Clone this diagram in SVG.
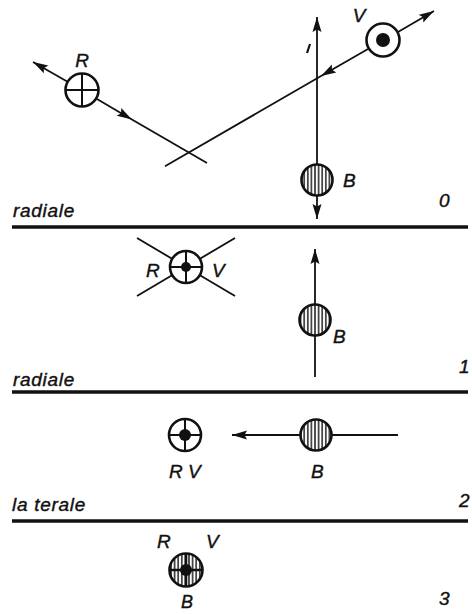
<svg xmlns="http://www.w3.org/2000/svg" width="472" height="614" viewBox="0 0 472 614">
<style>
.ln{stroke:#111;stroke-width:1.8;fill:none}
.rule{stroke:#111;stroke-width:3.5}
.ring{stroke:#111;stroke-width:2.6;fill:#fff}
.hring{stroke:#111;stroke-width:2.6;fill:url(#hatch)}
.cross{stroke:#111;stroke-width:2}
.dot{fill:#111}
.t{font-family:"Liberation Sans","Arial",sans-serif;font-style:italic;font-size:19px;fill:#111;stroke:#111;stroke-width:0.4}
.w{letter-spacing:0.7px}
</style>
<defs>
<pattern id="hatch" patternUnits="userSpaceOnUse" width="3.6" height="10">
<rect width="3.6" height="10" fill="#fff"/>
<line x1="1.8" y1="0" x2="1.8" y2="10" stroke="#111" stroke-width="1.4"/>
</pattern>
<marker id="arr" markerUnits="userSpaceOnUse" markerWidth="16" markerHeight="9" refX="15" refY="4.5" orient="auto" overflow="visible">
<path d="M0,0 L15,4.5 L0,9 L2.5,4.5 z" fill="#111"/>
</marker>
<marker id="arrm" markerUnits="userSpaceOnUse" markerWidth="16" markerHeight="9" refX="7" refY="4.5" orient="auto" overflow="visible">
<path d="M0,0 L15,4.5 L0,9 L2.5,4.5 z" fill="#111"/>
</marker>
</defs>

<g id="connectors">
<!-- panel 0 -->
<line class="ln" x1="68" y1="82" x2="33" y2="62" marker-end="url(#arr)"/>
<path class="ln" d="M97,99 L125,115.5 L207,163" marker-mid="url(#arrm)"/>
<path class="ln" d="M368,49 L328,72 L165,166.3" marker-mid="url(#arrm)"/>
<line class="ln" x1="398" y1="32" x2="434" y2="11" marker-end="url(#arr)"/>
<line class="ln" x1="317" y1="164" x2="317" y2="17" marker-end="url(#arr)"/>
<line class="ln" x1="317" y1="196" x2="317" y2="219" marker-end="url(#arr)"/>
<line class="ln" x1="307" y1="53" x2="310" y2="44" style="stroke-width:2.2"/>
<!-- panel 1 -->
<line class="ln" x1="137" y1="238" x2="235" y2="296"/>
<line class="ln" x1="137" y1="296" x2="235" y2="238"/>
<line class="ln" x1="315" y1="377" x2="315" y2="249" marker-end="url(#arr)"/>
<!-- panel 2 -->
<line class="ln" x1="398" y1="435" x2="332" y2="435"/>
<line class="ln" x1="300" y1="435" x2="232" y2="435" marker-end="url(#arr)"/>
</g>

<g id="rules">
<line class="rule" x1="12" y1="227" x2="468" y2="227"/>
<line class="rule" x1="12" y1="392" x2="468" y2="392"/>
<line class="rule" x1="12" y1="521" x2="468" y2="521"/>
</g>

<g id="p0-R">
<circle class="ring" cx="82" cy="90" r="16.5"/>
<line class="cross" x1="65.5" y1="90" x2="98.5" y2="90"/>
<line class="cross" x1="82" y1="73.5" x2="82" y2="106.5"/>
<text class="t" x="82" y="67" text-anchor="middle">R</text>
</g>
<g id="p0-V">
<circle class="ring" cx="383" cy="40" r="16.5"/>
<circle class="dot" cx="383" cy="40" r="7"/>
<text class="t" x="359" y="22" text-anchor="middle">V</text>
</g>
<g id="p0-B">
<circle class="hring" cx="317" cy="180" r="15.5"/>
<text class="t" x="343" y="187">B</text>
</g>
<g id="p0-labels">
<text class="t w" x="13" y="217">radiale</text>
<text class="t" x="439" y="207">0</text>
</g>

<g id="p1-RV">
<circle class="ring" cx="186" cy="267" r="16"/>
<line class="cross" x1="170" y1="267" x2="202" y2="267"/>
<line class="cross" x1="186" y1="251" x2="186" y2="283"/>
<circle class="dot" cx="186" cy="267" r="5"/>
<text class="t" x="146" y="277">R</text>
<text class="t" x="212" y="277">V</text>
</g>
<g id="p1-B">
<circle class="hring" cx="315" cy="320" r="15.5"/>
<text class="t" x="333" y="343">B</text>
</g>
<g id="p1-labels">
<text class="t w" x="13" y="386">radiale</text>
<text class="t" x="459" y="373">1</text>
</g>

<g id="p2-RV">
<circle class="ring" cx="185" cy="435" r="16"/>
<line class="cross" x1="169" y1="435" x2="201" y2="435"/>
<line class="cross" x1="185" y1="419" x2="185" y2="451"/>
<circle class="dot" cx="185" cy="435" r="6"/>
<text class="t" x="169" y="478">R</text>
<text class="t" x="188" y="478">V</text>
</g>
<g id="p2-B">
<circle class="hring" cx="316" cy="435" r="15.5"/>
<text class="t" x="311" y="478">B</text>
</g>
<g id="p2-labels">
<text class="t w" x="12" y="511">la terale</text>
<text class="t" x="459" y="507">2</text>
</g>

<g id="p3-RVB">
<circle class="hring" cx="186" cy="570" r="16.5"/>
<line class="cross" x1="169.5" y1="570" x2="202.5" y2="570" style="stroke-width:2.6"/>
<line class="cross" x1="186" y1="553.5" x2="186" y2="586.5" style="stroke-width:2.6"/>
<circle class="dot" cx="186" cy="570" r="6"/>
<text class="t" x="157" y="548">R</text>
<text class="t" x="206" y="548">V</text>
<text class="t" x="181" y="608" style="font-size:18px">B</text>
</g>
<g id="p3-labels">
<text class="t" x="439" y="605">3</text>
</g>
</svg>
